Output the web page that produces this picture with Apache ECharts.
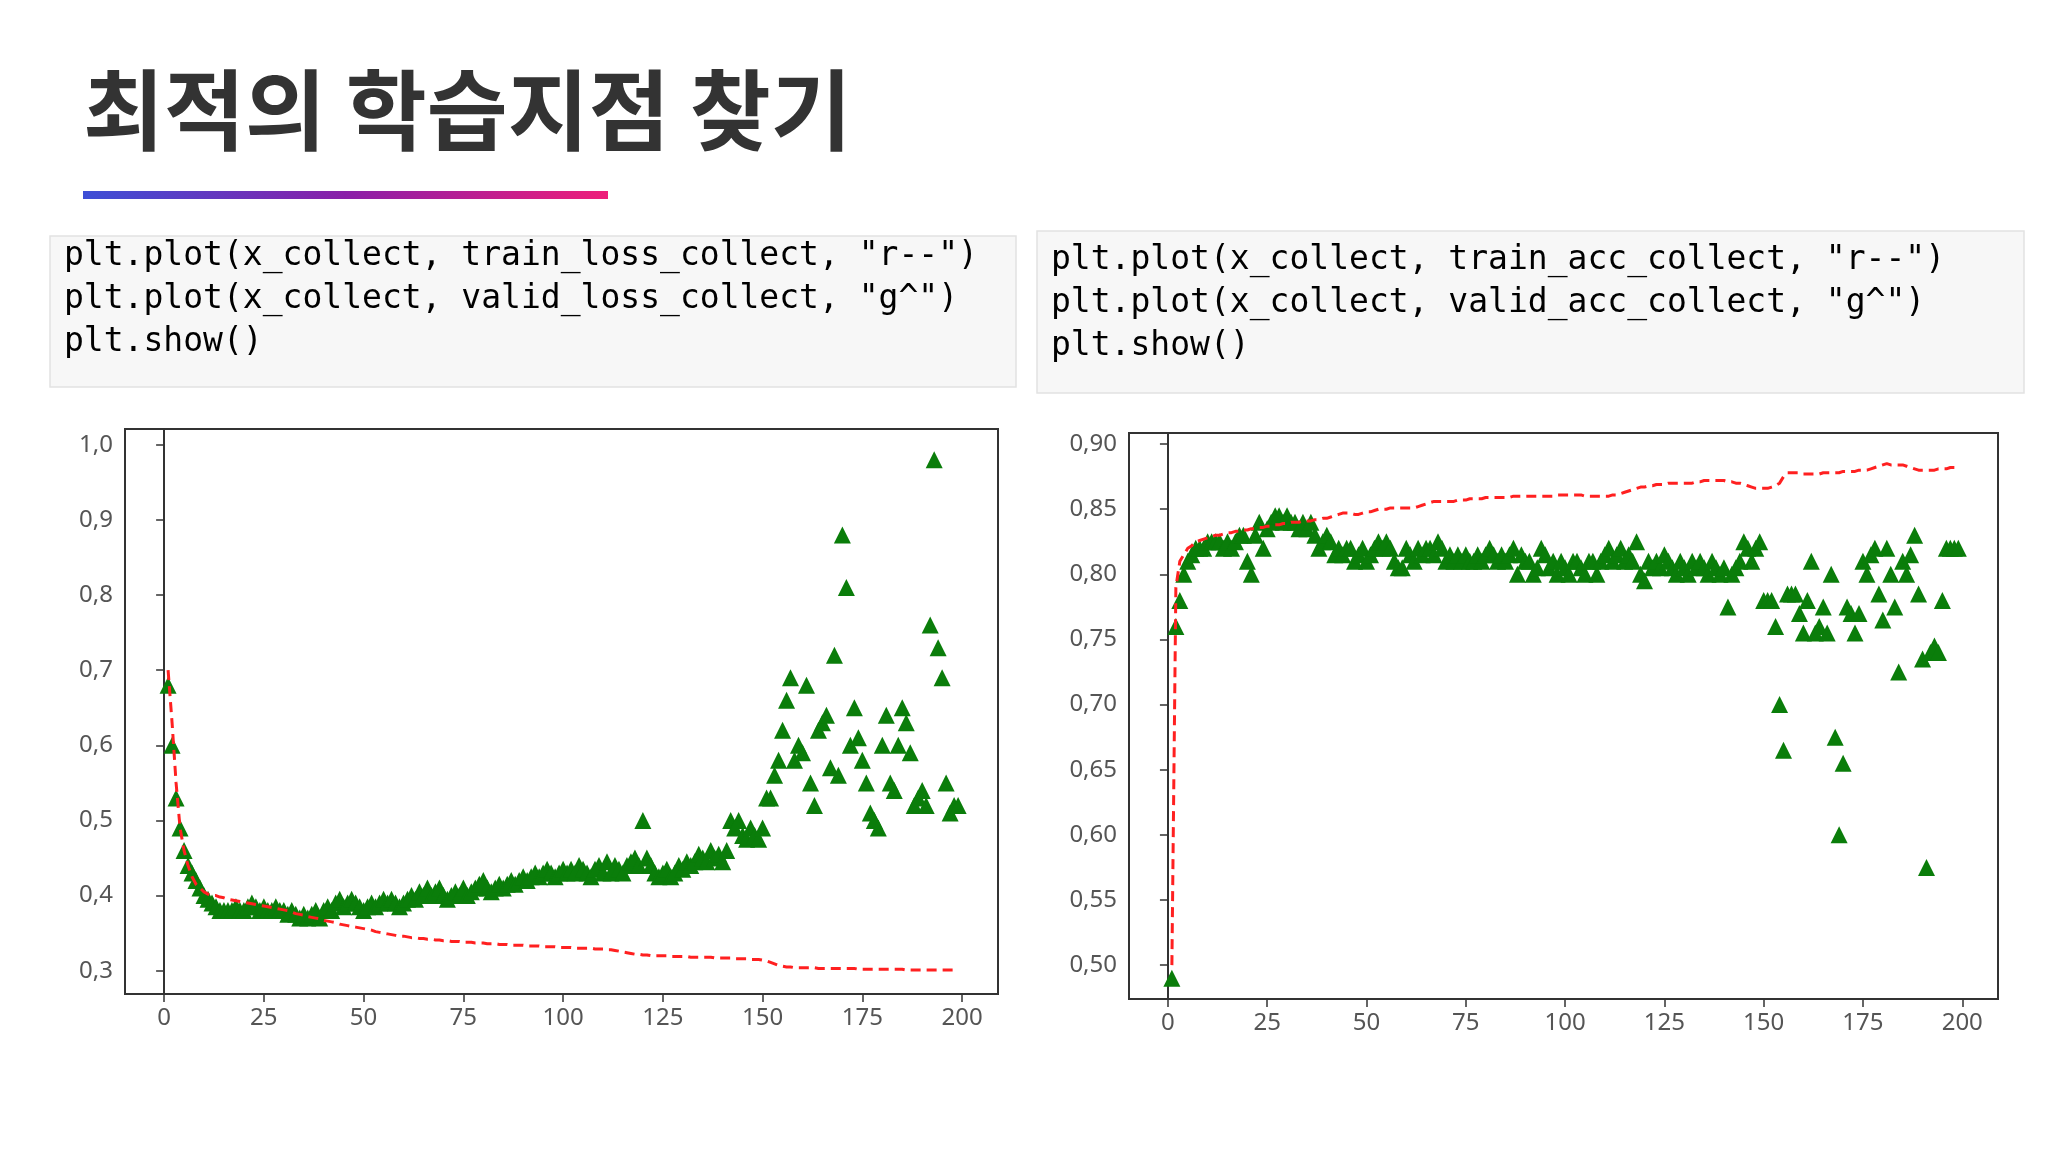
<!DOCTYPE html>
<html><head><meta charset="utf-8">
<script src="https://cdn.jsdelivr.net/npm/echarts@6/dist/echarts.min.js"></script>
<style>html,body{margin:0;padding:0;background:#fff}#main{width:2048px;height:1152px}</style>
</head><body><div id="main"></div>
<script>
var trainLoss = [0.70,0.63,0.55,0.49,0.46,0.44,0.425,0.415,0.41,0.405,
0.402,0.40,0.40,0.398,0.397,0.395,0.394,0.393,0.392,0.391,
0.39,0.389,0.388,0.387,0.386,0.385,0.384,0.383,0.382,0.381,
0.38,0.378,0.376,0.375,0.374,0.372,0.371,0.37,0.369,0.367,
0.366,0.365,0.364,0.362,0.361,0.36,0.359,0.358,0.357,0.356,
0.355,0.354,0.352,0.351,0.35,0.349,0.348,0.347,0.346,0.346,
0.345,0.344,0.344,0.343,0.343,0.342,0.342,0.341,0.341,0.34,
0.34,0.339,0.339,0.339,0.338,0.338,0.338,0.337,0.337,0.337,
0.336,0.336,0.336,0.335,0.335,0.335,0.334,0.334,0.334,0.334,
0.333,0.333,0.333,0.333,0.332,0.332,0.332,0.332,0.331,0.331,
0.331,0.331,0.33,0.33,0.33,0.33,0.33,0.329,0.329,0.329,
0.328,0.328,0.327,0.326,0.325,0.324,0.323,0.322,0.322,0.321,
0.321,0.32,0.32,0.32,0.32,0.32,0.319,0.319,0.319,0.319,
0.319,0.318,0.318,0.318,0.318,0.318,0.318,0.317,0.317,0.317,
0.317,0.317,0.316,0.316,0.316,0.316,0.315,0.315,0.315,0.314,
0.313,0.311,0.309,0.307,0.306,0.305,0.305,0.304,0.304,0.304,
0.304,0.304,0.304,0.303,0.303,0.303,0.303,0.303,0.303,0.303,
0.303,0.303,0.303,0.302,0.302,0.302,0.302,0.302,0.302,0.302,
0.302,0.302,0.302,0.302,0.302,0.301,0.301,0.301,0.301,0.301,
0.301,0.301,0.301,0.301,0.301,0.301,0.301,0.301,0.301];
var validLoss = [0.68,0.60,0.53,0.49,0.46,0.44,0.43,0.42,0.41,0.40,
0.395,0.39,0.385,0.38,0.38,0.38,0.38,0.385,0.38,0.38,
0.385,0.39,0.385,0.38,0.385,0.38,0.38,0.385,0.38,0.38,
0.375,0.38,0.375,0.37,0.375,0.37,0.375,0.38,0.37,0.38,
0.385,0.38,0.39,0.395,0.385,0.39,0.395,0.39,0.385,0.38,
0.385,0.39,0.385,0.39,0.395,0.39,0.395,0.39,0.385,0.39,
0.395,0.40,0.395,0.405,0.40,0.41,0.40,0.405,0.41,0.40,
0.395,0.40,0.405,0.40,0.41,0.40,0.405,0.41,0.415,0.42,
0.41,0.405,0.41,0.415,0.41,0.415,0.42,0.415,0.42,0.425,
0.42,0.425,0.43,0.425,0.43,0.435,0.43,0.425,0.43,0.435,
0.43,0.435,0.43,0.44,0.435,0.43,0.425,0.435,0.44,0.43,
0.445,0.43,0.44,0.435,0.43,0.44,0.445,0.45,0.44,0.50,
0.45,0.44,0.43,0.425,0.43,0.435,0.425,0.43,0.44,0.435,
0.445,0.44,0.445,0.455,0.45,0.445,0.46,0.45,0.455,0.445,
0.46,0.50,0.49,0.50,0.48,0.475,0.49,0.48,0.475,0.49,
0.53,0.53,0.56,0.58,0.62,0.66,0.69,0.58,0.60,0.59,
0.68,0.55,0.52,0.62,0.63,0.64,0.57,0.72,0.56,0.88,
0.81,0.60,0.65,0.61,0.58,0.55,0.51,0.50,0.49,0.60,
0.64,0.55,0.54,0.60,0.65,0.63,0.59,0.52,0.53,0.54,
0.52,0.76,0.98,0.73,0.69,0.55,0.51,0.52,0.52];
var trainAcc = [0.50,0.79,0.81,0.815,0.82,0.822,0.825,0.826,0.827,0.828,
0.829,0.83,0.83,0.831,0.832,0.832,0.833,0.833,0.834,0.834,
0.835,0.835,0.836,0.836,0.837,0.837,0.838,0.838,0.839,0.839,
0.84,0.84,0.84,0.841,0.841,0.841,0.842,0.842,0.843,0.843,
0.844,0.845,0.846,0.847,0.847,0.847,0.846,0.846,0.847,0.848,
0.848,0.849,0.85,0.85,0.85,0.851,0.851,0.851,0.851,0.851,
0.851,0.851,0.852,0.853,0.854,0.855,0.856,0.856,0.856,0.856,
0.856,0.856,0.857,0.857,0.857,0.858,0.858,0.858,0.858,0.859,
0.859,0.859,0.859,0.859,0.859,0.859,0.86,0.86,0.86,0.86,
0.86,0.86,0.86,0.86,0.86,0.86,0.86,0.861,0.861,0.861,
0.861,0.861,0.861,0.861,0.86,0.86,0.86,0.86,0.86,0.86,
0.86,0.861,0.861,0.862,0.863,0.864,0.865,0.866,0.867,0.867,
0.868,0.868,0.869,0.869,0.869,0.87,0.87,0.87,0.87,0.87,
0.87,0.87,0.871,0.871,0.872,0.872,0.872,0.872,0.872,0.872,
0.871,0.871,0.87,0.87,0.869,0.868,0.867,0.866,0.866,0.866,
0.866,0.867,0.868,0.87,0.875,0.878,0.878,0.878,0.878,0.877,
0.877,0.877,0.877,0.877,0.878,0.878,0.878,0.878,0.878,0.879,
0.879,0.879,0.879,0.88,0.88,0.88,0.881,0.882,0.883,0.884,
0.885,0.884,0.884,0.884,0.884,0.883,0.882,0.881,0.88,0.88,
0.88,0.88,0.88,0.881,0.881,0.881,0.882,0.882,0.882];
var validAcc = [0.49,0.76,0.78,0.80,0.81,0.815,0.82,0.82,0.82,0.825,
0.825,0.825,0.825,0.82,0.825,0.82,0.825,0.83,0.83,0.81,
0.80,0.83,0.84,0.82,0.835,0.84,0.845,0.845,0.84,0.845,
0.84,0.84,0.835,0.84,0.835,0.84,0.83,0.82,0.825,0.83,
0.825,0.815,0.82,0.815,0.82,0.82,0.81,0.815,0.82,0.81,
0.815,0.82,0.825,0.82,0.825,0.82,0.81,0.805,0.805,0.82,
0.815,0.81,0.82,0.815,0.82,0.82,0.815,0.825,0.82,0.81,
0.815,0.81,0.815,0.81,0.815,0.81,0.81,0.815,0.81,0.815,
0.82,0.815,0.81,0.815,0.81,0.815,0.82,0.80,0.815,0.81,
0.81,0.80,0.805,0.82,0.815,0.805,0.81,0.80,0.81,0.805,
0.80,0.81,0.81,0.805,0.80,0.81,0.81,0.80,0.81,0.815,
0.82,0.81,0.815,0.82,0.81,0.815,0.81,0.825,0.80,0.795,
0.81,0.805,0.81,0.805,0.815,0.81,0.805,0.80,0.81,0.805,
0.80,0.81,0.805,0.81,0.805,0.80,0.81,0.805,0.80,0.805,
0.775,0.80,0.805,0.81,0.825,0.82,0.81,0.82,0.825,0.78,
0.78,0.78,0.76,0.70,0.665,0.785,0.785,0.785,0.77,0.755,
0.78,0.81,0.755,0.76,0.775,0.755,0.80,0.675,0.60,0.655,
0.775,0.77,0.755,0.77,0.81,0.80,0.815,0.82,0.785,0.765,
0.82,0.80,0.775,0.725,0.81,0.80,0.815,0.83,0.785,0.735,
0.575,0.74,0.745,0.74,0.78,0.82,0.82,0.82,0.82];
var xTicks = [0,25,50,75,100,125,150,175,200];
var lossTicks = [0.3,0.4,0.5,0.6,0.7,0.8,0.9,1.0];
var accTicks = [0.50,0.55,0.60,0.65,0.70,0.75,0.80,0.85,0.90];

function pairs(arr) {
    return arr.map(function (v, i) { return [i + 1, v]; });
}

var mono = 'DejaVu Sans Mono';
function codeText(a, b) {
    return '{k|plt.}{f|plot}{k|(x_collect, ' + a + ', }{s|"r--"}{k|)}\n' +
        '{k|plt.}{f|plot}{k|(x_collect, ' + b + ', }{s|"g^"}{k|)}\n' +
        '{k|plt.}{f|show}{k|()}';
}
var rich = {
    k: {fontFamily: mono, fontSize: 33, color: '#222', lineHeight: 43},
    f: {fontFamily: mono, fontSize: 33, color: '#1a5fb4', lineHeight: 43},
    s: {fontFamily: mono, fontSize: 33, color: '#b22222', lineHeight: 43}
};

function xAxis(idx) {
    return {
        type: 'value', gridIndex: idx, min: -9.8, max: 209,
        axisLine: {show: true, lineStyle: {color: '#333', width: 2}}, splitLine: {show: false},
        axisTick: {show: true, inside: false, customValues: xTicks, length: 8, lineStyle: {color: '#333', width: 1.5}},
        axisLabel: {customValues: xTicks, color: '#555', fontSize: 24, fontFamily: 'Noto Sans', margin: 12}
    };
}
function yAxis(idx, min, max, ticks, dec) {
    return {
        type: 'value', gridIndex: idx, min: min, max: max,
        axisLine: {show: true, lineStyle: {color: '#333', width: 2}}, splitLine: {show: false},
        axisTick: {show: true, inside: false, customValues: ticks, length: 8, lineStyle: {color: '#333', width: 1.5}},
        axisLabel: {customValues: ticks, color: '#555', fontSize: 24, fontFamily: 'Noto Sans', margin: 12,
            formatter: function (v) { return v.toFixed(dec).replace('.', ','); }}
    };
}

var chart = echarts.init(document.getElementById('main'));
chart.setOption({
    backgroundColor: '#fff',
    animation: false,
    graphic: [
        {type: 'text', left: 83, top: 66, style: {text: '최적의 학습지점 찾기', fontSize: 88, fontWeight: 'bold',
            fontFamily: 'Noto Sans CJK KR', fill: '#333'}},
        {type: 'rect', shape: {x: 83, y: 191, width: 525, height: 8}, style: {fill: new echarts.graphic.LinearGradient(0, 0, 1, 0, [
            {offset: 0, color: '#3d4fd6'}, {offset: 0.5, color: '#8a1fa8'}, {offset: 1, color: '#ee1f7a'}])}},
        {type: 'rect', shape: {x: 50, y: 236, width: 966, height: 151}, style: {fill: '#f7f7f7', stroke: '#e2e2e2', lineWidth: 1.5}},
        {type: 'rect', shape: {x: 1037, y: 231, width: 987, height: 162}, style: {fill: '#f7f7f7', stroke: '#e2e2e2', lineWidth: 1.5}},
        {type: 'text', left: 64, top: 240, style: {text: codeText('train_loss_collect', 'valid_loss_collect'), rich: rich}},
        {type: 'text', left: 1051, top: 244, style: {text: codeText('train_acc_collect', 'valid_acc_collect'), rich: rich}}
    ],
    grid: [
        {left: 125, top: 429, width: 873, height: 565, show: true, borderColor: '#333', borderWidth: 2, backgroundColor: '#fff'},
        {left: 1129, top: 433, width: 869, height: 566, show: true, borderColor: '#333', borderWidth: 2, backgroundColor: '#fff'}
    ],
    xAxis: [xAxis(0), xAxis(1)],
    yAxis: [yAxis(0, 0.269, 1.021, lossTicks, 1), yAxis(1, 0.474, 0.9085, accTicks, 2)],
    series: [
        {type: 'line', xAxisIndex: 0, yAxisIndex: 0, data: pairs(trainLoss), showSymbol: false,
            lineStyle: {color: '#ff2020', width: 3, type: [10, 6]}},
        {type: 'scatter', xAxisIndex: 0, yAxisIndex: 0, data: pairs(validLoss), symbol: 'triangle', symbolSize: 17,
            itemStyle: {color: '#0a7d0a', opacity: 1}},
        {type: 'line', xAxisIndex: 1, yAxisIndex: 1, data: pairs(trainAcc), showSymbol: false,
            lineStyle: {color: '#ff2020', width: 3, type: [10, 6]}},
        {type: 'scatter', xAxisIndex: 1, yAxisIndex: 1, data: pairs(validAcc), symbol: 'triangle', symbolSize: 17,
            itemStyle: {color: '#0a7d0a', opacity: 1}}
    ]
});
</script>
</body></html>
